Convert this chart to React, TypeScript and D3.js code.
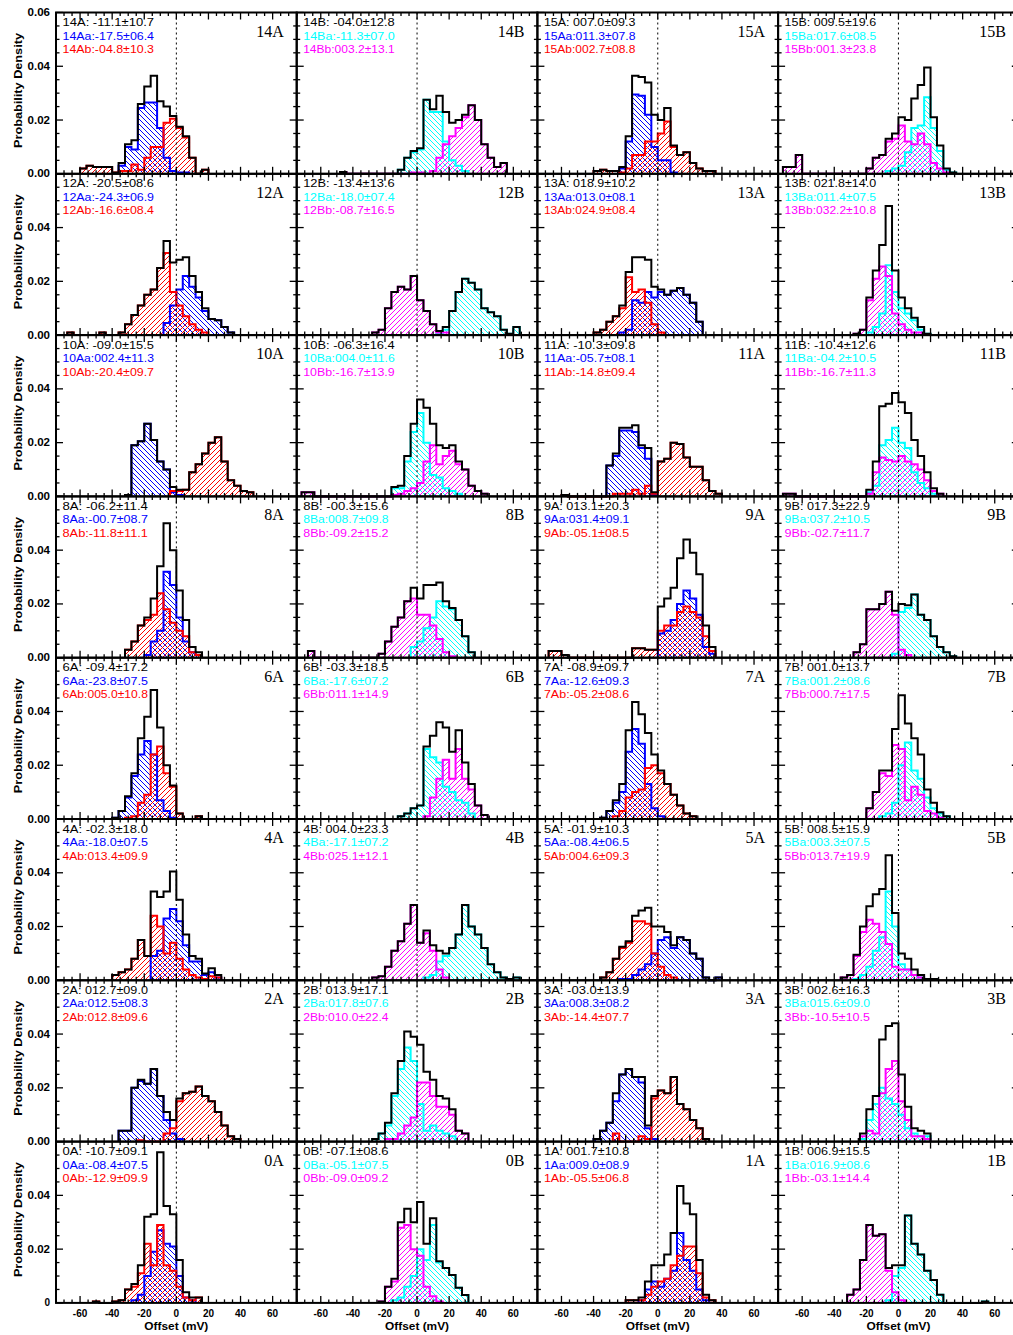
import React from 'react';
import * as d3 from 'd3';

// ---------- data (densities in units of 0.001, 4 mV bins, start = left bin edge in mV) ----------
type Hist = { start: number; dens: number[] };

const BIN = 4;
const X_DOMAIN: [number, number] = [-75, 75];
const Y_DOMAIN: [number, number] = [0, 0.06];
const X_MAJOR = [-60, -40, -20, 0, 20, 40, 60];
const Y_MAJOR = [0, 0.02, 0.04, 0.06];

const layout = [
  ['14A', '14B', '15A', '15B'],
  ['12A', '12B', '13A', '13B'],
  ['10A', '10B', '11A', '11B'],
  ['8A', '8B', '9A', '9B'],
  ['6A', '6B', '7A', '7B'],
  ['4A', '4B', '5A', '5B'],
  ['2A', '2B', '3A', '3B'],
  ['0A', '0B', '1A', '1B'],
];

const statAll: Record<string, string> = {
  '14A': '-11.1±10.7', '14B': '-04.0±12.8', '15A': '007.0±09.3', '15B': '009.5±19.6',
  '12A': '-20.5±08.6', '12B': '-13.4±13.6', '13A': '018.9±10.2', '13B': '021.8±14.0',
  '10A': '-09.0±15.5', '10B': '-06.3±16.4', '11A': '-10.3±09.8', '11B': '-10.4±12.6',
  '8A': '-06.2±11.4', '8B': '-00.3±15.6', '9A': '013.1±20.3', '9B': '017.3±22.9',
  '6A': '-09.4±17.2', '6B': '-03.3±18.5', '7A': '-08.9±09.7', '7B': '001.0±13.7',
  '4A': '-02.3±18.0', '4B': '004.0±23.3', '5A': '-01.9±10.3', '5B': '008.5±15.9',
  '2A': '012.7±09.0', '2B': '013.9±17.1', '3A': '-03.0±13.9', '3B': '002.6±16.3',
  '0A': '-10.7±09.1', '0B': '-07.1±08.6', '1A': '001.7±10.8', '1B': '006.9±15.5',
};
const statA: Record<string, string> = {
  '14A': '-17.5±06.4', '14B': '-11.3±07.0', '15A': '011.3±07.8', '15B': '017.6±08.5',
  '12A': '-24.3±06.9', '12B': '-18.0±07.4', '13A': '013.0±08.1', '13B': '011.4±07.5',
  '10A': '002.4±11.3', '10B': '004.0±11.6', '11A': '-05.7±08.1', '11B': '-04.2±10.5',
  '8A': '-00.7±08.7', '8B': '008.7±09.8', '9A': '031.4±09.1', '9B': '037.2±10.5',
  '6A': '-23.8±07.5', '6B': '-17.6±07.2', '7A': '-12.6±09.3', '7B': '001.2±08.6',
  '4A': '-18.0±07.5', '4B': '-17.1±07.2', '5A': '-08.4±06.5', '5B': '003.3±07.5',
  '2A': '012.5±08.3', '2B': '017.8±07.6', '3A': '008.3±08.2', '3B': '015.6±09.0',
  '0A': '-08.4±07.5', '0B': '-05.1±07.5', '1A': '009.0±08.9', '1B': '016.9±08.6',
};
const statB: Record<string, string> = {
  '14A': '-04.8±10.3', '14B': '003.2±13.1', '15A': '002.7±08.8', '15B': '001.3±23.8',
  '12A': '-16.6±08.4', '12B': '-08.7±16.5', '13A': '024.9±08.4', '13B': '032.2±10.8',
  '10A': '-20.4±09.7', '10B': '-16.7±13.9', '11A': '-14.8±09.4', '11B': '-16.7±11.3',
  '8A': '-11.8±11.1', '8B': '-09.2±15.2', '9A': '-05.1±08.5', '9B': '-02.7±11.7',
  '6A': '005.0±10.8', '6B': '011.1±14.9', '7A': '-05.2±08.6', '7B': '000.7±17.5',
  '4A': '013.4±09.9', '4B': '025.1±12.1', '5A': '004.6±09.3', '5B': '013.7±19.9',
  '2A': '012.8±09.6', '2B': '010.0±22.4', '3A': '-14.4±07.7', '3B': '-10.5±10.5',
  '0A': '-12.9±09.9', '0B': '-09.0±09.2', '1A': '-05.5±06.8', '1B': '-03.1±14.4',
};

// component a (blue / cyan) and component b (red / magenta)
const h14Aa: Hist = { start: -36, dens: [3, 10, 9, 24.5, 26.5, 26.5, 17, 6, 1, 0.5, 0.5] };
const h14Ab: Hist = { start: -60, dens: [2, 3, 2.5, 2.5, 2.5, 0.5, 1, 1, 3.5, 1.5, 6, 10, 10, 19, 20.5, 17, 13.5, 6, 0, 1.5] };
const h14Ba: Hist = { start: -12, dens: [1.5, 6, 8, 9, 27.5, 23, 23, 12, 5, 3, 1] };
const h14Bb: Hist = { start: -48, dens: [0.7, 0, 0, 0, 0, 0, 0, 0, 0, 0, 0, 0.5, 0.5, 0, 1, 6, 11, 14, 17, 21, 25.5, 20, 11, 6, 2.5, 4] };
const h15Aa: Hist = { start: -24, dens: [2, 12, 29.5, 29, 22, 10, 5, 5, 0.5] };
const h15Ab: Hist = { start: -40, dens: [1, 1.5, 1, 1, 0.5, 2, 7, 7, 12, 12, 15, 19.5, 10, 7, 8, 4, 2, 1, 1] };
const h15Ba: Hist = { start: -8, dens: [1, 2, 3, 8, 17, 18, 28.5, 17, 8.5, 1.5, 0.5] };
const h15Bb: Hist = { start: -72, dens: [2.5, 2.5, 7, 0, 0, 0, 0, 0, 0, 0, 0, 0, 0, 2, 6, 7, 12, 13, 18, 12, 11, 15, 11, 4, 2, 0.5] };
const h12Aa: Hist = { start: -8, dens: [4.5, 11, 17, 22, 18, 14, 9, 6, 5.5, 3, 1] };
const h12Ab: Hist = { start: -68, dens: [1, 0, 0, 0, 0, 1, 0, 0, 1, 4, 7.5, 11, 15, 17, 25, 30.5, 16, 11, 7, 4, 2, 1] };
const h12Ba: Hist = { start: 12, dens: [0.5, 2, 9, 16, 21, 19.5, 17, 10, 8.5, 7, 2, 0.5, 3] };
const h12Bb: Hist = { start: -28, dens: [1, 2, 10, 16, 18, 17, 22, 13, 9, 4, 1, 1] };
const h13Aa: Hist = { start: -24, dens: [1, 2, 13, 12, 16, 14, 16, 15, 16.5, 17.5, 15, 12, 5] };
const h13Ab: Hist = { start: -40, dens: [1, 2, 5, 7, 10, 21.5, 16, 17, 12, 4, 1] };
const h13Ba: Hist = { start: -20, dens: [1, 3, 8, 26, 16, 10, 8, 5.5, 2, 0.5] };
const h13Bb: Hist = { start: -28, dens: [0.5, 2, 13, 21, 25.5, 22, 8, 4, 2, 1, 1] };
const h10Aa: Hist = { start: -32, dens: [0.5, 19, 20.5, 27, 21, 13, 10, 1.5, 0.5] };
const h10Ab: Hist = { start: -4, dens: [2, 2, 2.5, 9, 12, 16, 20, 22, 13, 6, 4, 2, 1.5] };
const h10Ba: Hist = { start: -16, dens: [3, 3, 13, 24, 31, 20, 8, 7, 3, 2, 1] };
const h10Bb: Hist = { start: -72, dens: [1.5, 1.5, 0, 0, 0, 0, 0, 0, 0, 0, 0, 0, 0, 0, 0.5, 1, 2, 3, 5, 13, 19, 12, 15, 17, 12, 10, 4, 2, 1] };
const h11Aa: Hist = { start: -32, dens: [11.5, 15, 24.5, 24.5, 24, 18, 14, 0.5] };
const h11Ab: Hist = { start: -60, dens: [0.5, 0, 0, 0, 0, 0, 0, 0, 1, 1, 1, 2.5, 1, 4, 1, 13, 14, 20, 19.5, 14.5, 11, 11, 6, 2, 1] };
const h11Ba: Hist = { start: -20, dens: [1.5, 4, 19, 21, 25.5, 20, 18, 9, 5, 3, 1] };
const h11Bb: Hist = { start: -72, dens: [1, 1, 0, 0, 0, 0, 0, 0, 0, 0, 0, 0, 0, 1, 9, 14.5, 13.5, 13, 15, 13, 12, 10, 6, 2, 1] };
const h8Aa: Hist = { start: -20, dens: [1, 6, 10, 32, 27, 15, 6, 2, 1] };
const h8Ab: Hist = { start: -32, dens: [3, 6, 12, 14, 16, 24, 18, 13, 10, 8, 2, 1] };
const h8Ba: Hist = { start: -4, dens: [4, 6, 11, 15, 21, 19, 18, 14, 8, 2] };
const h8Bb: Hist = { start: -68, dens: [2.5, 0, 0, 0, 0, 0, 0, 0, 0, 0, 0, 1.5, 6, 11.5, 15, 21, 22, 16, 16, 12, 7, 2, 0.5] };
const h9Aa: Hist = { start: 0, dens: [9, 10, 14, 20, 25, 22, 16, 4, 1.5] };
const h9Ab: Hist = { start: -68, dens: [2.5, 2.5, 1, 0, 0, 0, 0, 0, 0, 0, 0, 0, 0, 3.5, 3.5, 3, 3, 10, 12, 12, 17, 19, 17, 15, 8, 2.5] };
const h9Ba: Hist = { start: -4, dens: [1.5, 17, 18.5, 23.5, 16, 14, 8, 4, 2, 0.5] };
const h9Bb: Hist = { start: -28, dens: [2, 5, 18, 18, 20, 24.5, 16, 3, 1] };
const h6Aa: Hist = { start: -40, dens: [0.5, 3, 8, 16, 24, 29, 24, 7, 3, 0.5] };
const h6Ab: Hist = { start: -32, dens: [0.5, 1, 6, 9, 24, 27, 17, 12, 2, 0, 0, 1] };
const h6Ba: Hist = { start: -12, dens: [1, 2, 4, 5, 26, 23, 21, 12, 10, 7, 6, 2] };
const h6Bb: Hist = { start: 4, dens: [1, 8, 15, 22, 15, 26, 15, 11, 5, 1.5] };
const h7Aa: Hist = { start: -36, dens: [0.5, 3, 6, 10, 25, 33.5, 28, 13, 4, 1] };
const h7Ab: Hist = { start: -28, dens: [1, 3, 8, 10, 11, 19, 20, 17, 13, 9, 5, 2, 1] };
const h7Ba: Hist = { start: -12, dens: [1, 2, 6, 20, 28.5, 18, 15, 8, 4, 2, 1] };
const h7Bb: Hist = { start: -20, dens: [4, 10, 17, 16, 27.5, 26, 7, 12, 9, 3, 2, 0.5] };
const h4Aa: Hist = { start: -16, dens: [9, 11, 23, 26.5, 22, 13, 7, 7, 2, 3, 1] };
const h4Ab: Hist = { start: -40, dens: [2, 3, 4, 8, 15, 9, 24, 20, 10, 14, 8, 4, 2, 1, 0.5, 1.5, 1] };
const h4Ba: Hist = { start: 4, dens: [1, 2, 7, 9, 12, 17, 28, 20, 17, 12, 6, 3, 1, 0.5, 1] };
const h4Bb: Hist = { start: -28, dens: [1, 1.5, 5, 11, 14.5, 21, 28, 14, 17.5, 11, 4, 1] };
const h5Aa: Hist = { start: -24, dens: [0.5, 0.5, 2, 4, 6, 10, 15, 16, 12, 16, 15, 10, 8, 1, 0, 1] };
const h5Ab: Hist = { start: -36, dens: [1, 3, 8, 12, 14, 22, 22, 21, 10, 5, 2, 1] };
const h5Ba: Hist = { start: -28, dens: [0.5, 2, 5, 11, 16, 33, 20, 6, 4, 2, 1, 0.5, 0.5] };
const h5Bb: Hist = { start: -36, dens: [1, 2, 9, 18, 22.5, 21, 18, 13.5, 5, 4, 4, 2, 1] };
const h2Aa: Hist = { start: -36, dens: [4, 4, 20, 22.5, 21.5, 27, 17, 8, 3, 1] };
const h2Ab: Hist = { start: -24, dens: [0.5, 0, 0, 0, 3, 5, 15, 18, 18.5, 20.5, 17, 15, 11, 6, 2, 1] };
const h2Ba: Hist = { start: -28, dens: [1, 3, 6, 17, 27, 35, 30, 14, 4, 6, 4, 3, 2] };
const h2Bb: Hist = { start: -20, dens: [1, 1, 3, 6, 9, 22, 22, 17, 13, 13, 10, 4, 3] };
const h3Aa: Hist = { start: -40, dens: [1, 4, 7, 15, 25, 27, 24, 22, 5, 1] };
const h3Ab: Hist = { start: -28, dens: [3, 0, 0, 0, 2, 1, 16, 19, 18, 24, 14, 12, 8, 5, 1] };
const h3Ba: Hist = { start: -24, dens: [1, 8, 14, 20, 16, 14, 10, 5, 3, 2, 2] };
const h3Bb: Hist = { start: -24, dens: [2, 4, 3, 18, 27, 30, 15, 8, 2, 2, 1] };
const h0Aa: Hist = { start: -28, dens: [1, 3, 10, 19, 27, 22, 21, 10, 2, 1] };
const h0Ab: Hist = { start: -52, dens: [0.5, 0, 0, 0.5, 1, 5, 6, 11, 22, 14, 29, 14, 12, 6, 2, 1, 2] };
const h0Ba: Hist = { start: -16, dens: [1, 2, 6, 10, 20, 16, 29, 15, 13, 10.4, 5.6, 2.9] };
const h0Bb: Hist = { start: -24, dens: [0.5, 6, 8, 28, 29, 20, 17.5, 6, 2.5, 0.5] };
const h1Aa: Hist = { start: -12, dens: [1, 5, 8, 6, 9, 12, 26, 16, 12, 5, 1] };
const h1Ab: Hist = { start: -20, dens: [1, 1, 1, 3, 6, 8, 9, 14, 17.5, 21, 21, 11, 2, 1] };
const h1Ba: Hist = { start: -8, dens: [1, 10, 13, 32.5, 22, 18, 12, 8.5, 3, 0, 0, 0, 0, 0, 0, 0.5] };
const h1Bb: Hist = { start: -32, dens: [3, 5, 16, 29, 25, 25.5, 12, 4, 1] };

const compA: Record<string, Hist> = {
  '14A': h14Aa, '14B': h14Ba, '15A': h15Aa, '15B': h15Ba, '12A': h12Aa, '12B': h12Ba, '13A': h13Aa, '13B': h13Ba,
  '10A': h10Aa, '10B': h10Ba, '11A': h11Aa, '11B': h11Ba, '8A': h8Aa, '8B': h8Ba, '9A': h9Aa, '9B': h9Ba,
  '6A': h6Aa, '6B': h6Ba, '7A': h7Aa, '7B': h7Ba, '4A': h4Aa, '4B': h4Ba, '5A': h5Aa, '5B': h5Ba,
  '2A': h2Aa, '2B': h2Ba, '3A': h3Aa, '3B': h3Ba, '0A': h0Aa, '0B': h0Ba, '1A': h1Aa, '1B': h1Ba,
};
const compB: Record<string, Hist> = {
  '14A': h14Ab, '14B': h14Bb, '15A': h15Ab, '15B': h15Bb, '12A': h12Ab, '12B': h12Bb, '13A': h13Ab, '13B': h13Bb,
  '10A': h10Ab, '10B': h10Bb, '11A': h11Ab, '11B': h11Bb, '8A': h8Ab, '8B': h8Bb, '9A': h9Ab, '9B': h9Bb,
  '6A': h6Ab, '6B': h6Bb, '7A': h7Ab, '7B': h7Bb, '4A': h4Ab, '4B': h4Bb, '5A': h5Ab, '5B': h5Bb,
  '2A': h2Ab, '2B': h2Bb, '3A': h3Ab, '3B': h3Bb, '0A': h0Ab, '0B': h0Bb, '1A': h1Ab, '1B': h1Bb,
};

// ---------- helpers ----------
function sumHist(a: Hist, b: Hist): Hist {
  const start = Math.min(a.start, b.start);
  const end = Math.max(a.start + a.dens.length * BIN, b.start + b.dens.length * BIN);
  const n = Math.round((end - start) / BIN);
  const dens: number[] = [];
  for (let i = 0; i < n; i++) {
    const v = start + i * BIN;
    const ia = Math.round((v - a.start) / BIN);
    const ib = Math.round((v - b.start) / BIN);
    dens.push((a.dens[ia] ?? 0) + (b.dens[ib] ?? 0));
  }
  return { start, dens };
}

function stepPath(h: Hist, x: d3.ScaleLinear<number, number>, y: d3.ScaleLinear<number, number>) {
  const pts: [number, number][] = [[h.start, 0]];
  h.dens.forEach((d, i) => {
    pts.push([h.start + i * BIN, d]);
    pts.push([h.start + (i + 1) * BIN, d]);
  });
  pts.push([h.start + h.dens.length * BIN, 0]);
  return d3.line()(pts.map(([v, d]) => [x(v), y(d / 1000)] as [number, number])) || '';
}

const LEFT = 56;
const TOP = 12.5;
const PW = 240.7;
const PH = 161.3;

const SANS = "'Liberation Sans', Arial, Helvetica, sans-serif";
const SERIF = "'Liberation Serif', 'Times New Roman', serif";

const PALETTE: Record<string, string> = {
  blue: '#0000ff', red: '#ff0000', cyan: '#00ffff', magenta: '#ff00ff',
};

function Patterns() {
  const defs: JSX.Element[] = [];
  Object.entries(PALETTE).forEach(([n, c]) => {
    defs.push(
      <pattern key={'bs' + n} id={'back-' + n} patternUnits="userSpaceOnUse" width={5} height={5}>
        <path d="M0,0 L5,5 M-1,4 L1,6 M4,-1 L6,1" stroke={c} strokeWidth={1} />
      </pattern>,
    );
    defs.push(
      <pattern key={'fs' + n} id={'fwd-' + n} patternUnits="userSpaceOnUse" width={5} height={5}>
        <path d="M0,5 L5,0 M-1,1 L1,-1 M4,6 L6,4" stroke={c} strokeWidth={1} />
      </pattern>,
    );
  });
  return <defs>{defs}</defs>;
}

function Panel({ id, row, col }: { id: string; row: number; col: number }) {
  const x0 = LEFT + col * PW;
  const y0 = TOP + row * PH;
  const x = d3.scaleLinear().domain(X_DOMAIN).range([x0, x0 + PW]);
  const y = d3.scaleLinear().domain(Y_DOMAIN).range([y0 + PH, y0]);
  const kind = id.endsWith('A') ? 'A' : 'B';
  const pa = kind === 'A' ? 'blue' : 'cyan';
  const pb = kind === 'A' ? 'red' : 'magenta';
  const ca = PALETTE[pa];
  const cb = PALETTE[pb];
  const a = compA[id];
  const b = compB[id];
  const tot = sumHist(a, b);
  const pathA = stepPath(a, x, y);
  const pathB = stepPath(b, x, y);
  const pathT = stepPath(tot, x, y);

  const xMinor = d3.range(-75, 76, 5).filter((v) => v % 20 !== 0);
  const yMinor = d3.range(0, 0.0601, 0.005).filter((v) => Math.abs((v / 0.02) - Math.round(v / 0.02)) > 0.01);
  const ML = 7;
  const mL = 3.5;
  const ticks: JSX.Element[] = [];
  X_MAJOR.forEach((v) => {
    ticks.push(<line key={'xb' + v} x1={x(v)} x2={x(v)} y1={y0 + PH} y2={y0 + PH - ML} />);
    ticks.push(<line key={'xt' + v} x1={x(v)} x2={x(v)} y1={y0} y2={y0 + ML} />);
  });
  xMinor.forEach((v) => {
    ticks.push(<line key={'xbm' + v} x1={x(v)} x2={x(v)} y1={y0 + PH} y2={y0 + PH - mL} />);
    ticks.push(<line key={'xtm' + v} x1={x(v)} x2={x(v)} y1={y0} y2={y0 + mL} />);
  });
  Y_MAJOR.forEach((v) => {
    ticks.push(<line key={'yl' + v} x1={x0} x2={x0 + ML} y1={y(v)} y2={y(v)} />);
    ticks.push(<line key={'yr' + v} x1={x0 + PW} x2={x0 + PW - ML} y1={y(v)} y2={y(v)} />);
  });
  yMinor.forEach((v) => {
    ticks.push(<line key={'ylm' + v} x1={x0} x2={x0 + mL} y1={y(v)} y2={y(v)} />);
    ticks.push(<line key={'yrm' + v} x1={x0 + PW} x2={x0 + PW - mL} y1={y(v)} y2={y(v)} />);
  });

  const lines = [
    { t: `${id}: ${statAll[id]}`, c: '#000000' },
    { t: `${id}a:${statA[id]}`, c: ca },
    { t: `${id}b:${statB[id]}`, c: cb },
  ];

  return (
    <g>
      <path d={pathA} fill={`url(#back-${pa})`} stroke="none" />
      <path d={pathB} fill={`url(#fwd-${pb})`} stroke="none" />
      <path d={pathA} fill="none" stroke={ca} strokeWidth={2} />
      <path d={pathB} fill="none" stroke={cb} strokeWidth={2} />
      <path d={pathT} fill="none" stroke="#000" strokeWidth={2} />
      <line x1={x(0)} x2={x(0)} y1={y0} y2={y0 + PH} stroke="#000" strokeWidth={1} strokeDasharray="2,3" />
      <g stroke="#000" strokeWidth={1.3}>{ticks}</g>
      <rect x={x0} y={y0} width={PW} height={PH} fill="none" stroke="#000" strokeWidth={2} />
      {lines.map((l, i) => (
        <text key={i} x={x0 + 6.5} y={y0 + 13.5 + i * 13.5} fill={l.c} fontFamily={SANS} fontSize={11}
          textLength={l.t.length * 6.1} lengthAdjust="spacingAndGlyphs">{l.t}</text>
      ))}
      <text x={x0 + PW - 13} y={y0 + 24} textAnchor="end" fontFamily={SERIF} fontSize={16} fill="#000">{id}</text>
    </g>
  );
}

export default function App() {
  const W = 1013;
  const H = 1335;
  const nRows = layout.length;
  const bottomY = TOP + nRows * PH;
  const xs = d3.scaleLinear().domain(X_DOMAIN);
  return (
    <svg width={W} height={H} style={{ position: 'absolute', left: 0, top: 0, background: '#fff' }}>
      <rect x={0} y={0} width={W} height={H} fill="#fff" />
      <Patterns />
      {layout.map((r, ri) => r.map((id, ci) => <Panel key={id} id={id} row={ri} col={ci} />))}
      {layout.map((_, ri) => {
        const y0 = TOP + ri * PH;
        const ys = d3.scaleLinear().domain(Y_DOMAIN).range([y0 + PH, y0]);
        const labels = Y_MAJOR.filter((v) => ri === 0 || v < 0.059);
        return (
          <g key={'yl' + ri}>
            {labels.map((v) => (
              <text key={v} x={50} y={ys(v) + 3.5} textAnchor="end" fontFamily={SANS} fontWeight="bold" fontSize={10}
                textLength={ri === nRows - 1 && v === 0 ? undefined : 22.5} lengthAdjust="spacingAndGlyphs">
                {ri === nRows - 1 && v === 0 ? '0' : d3.format('.2f')(v)}
              </text>
            ))}
            <text transform={`translate(22,${y0 + 78}) rotate(-90)`} textAnchor="middle" fontFamily={SANS}
              fontWeight="bold" fontSize={11} textLength={115} lengthAdjust="spacingAndGlyphs">Probability Density</text>
          </g>
        );
      })}
      {layout[0].map((_, ci) => {
        const x0 = LEFT + ci * PW;
        const x = xs.copy().range([x0, x0 + PW]);
        return (
          <g key={'xl' + ci}>
            {X_MAJOR.map((v) => (
              <text key={v} x={x(v)} y={bottomY + 14.5} textAnchor="middle" fontFamily={SANS} fontWeight="bold" fontSize={10}>
                {v}
              </text>
            ))}
            <text x={x(0)} y={bottomY + 27} textAnchor="middle" fontFamily={SANS} fontWeight="bold" fontSize={10}
              textLength={64} lengthAdjust="spacingAndGlyphs">Offset (mV)</text>
          </g>
        );
      })}
    </svg>
  );
}
